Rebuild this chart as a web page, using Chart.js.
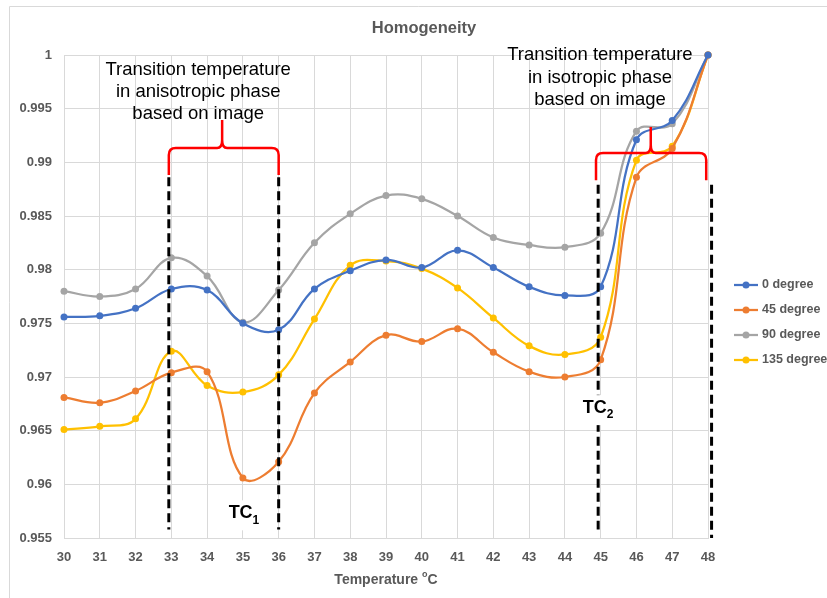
<!DOCTYPE html>
<html>
<head>
<meta charset="utf-8">
<script src="https://cdn.jsdelivr.net/npm/chart.js@4.4.1/dist/chart.umd.min.js"></script>
<style>
  html, body { margin: 0; padding: 0; background: #fff; }
  #wrap { width: 827px; height: 598px; }
</style>
</head>
<body>
<div id="wrap"><canvas id="mainChart" width="827" height="598"></canvas></div>
<script>
// values
const temps = ['30','31','32','33','34','35','36','37','38','39','40','41','42','43','44','45','46','47','48'];
const deg0   = [0.9756,0.9757,0.9764,0.9782,0.9781,0.9750,0.9744,0.9782,0.9799,0.9809,0.9802,0.9818,0.9802,0.9784,0.9776,0.9784,0.9921,0.9939,1.0];
const deg45  = [0.9681,0.9676,0.9687,0.9704,0.9705,0.9606,0.9621,0.9685,0.9714,0.9739,0.9733,0.9745,0.9723,0.9705,0.9700,0.9716,0.9886,0.9913,1.0];
const deg90  = [0.9780,0.9775,0.9782,0.9811,0.9794,0.9751,0.9781,0.9825,0.9852,0.9869,0.9866,0.9850,0.9830,0.9823,0.9821,0.9834,0.9929,0.9936,1.0];
const deg135 = [0.9651,0.9654,0.9661,0.9724,0.9692,0.9686,0.9702,0.9754,0.9804,0.9808,0.9801,0.9783,0.9755,0.9729,0.9721,0.9737,0.9902,0.9915,1.0];
const yTicks = [0.955,0.96,0.965,0.97,0.975,0.98,0.985,0.99,0.995,1];
const seriesNames = ['0 degree','45 degree','90 degree','135 degree'];
const seriesColors = ['#4472C4','#ED7D31','#A5A5A5','#FFC000'];

const GRAY = '#595959';
const GRID = '#d9d9d9';
const FONT = '"Liberation Sans", Arial, sans-serif';

// x position on the category axis for a (fractional) temperature
function xAt(chart, t) {
  const s = chart.scales.x;
  return s.getPixelForValue(0) + (t - 30) * (s.getPixelForValue(1) - s.getPixelForValue(0));
}
function yAt(chart, v) { return chart.scales.y.getPixelForValue(v); }

function bracket(ctx, xl, xr, yBar, yEnd, xPeak, yPeak) {
  const r = 7;
  ctx.beginPath();
  ctx.moveTo(xl, yEnd);
  ctx.lineTo(xl, yBar + r);
  ctx.quadraticCurveTo(xl, yBar, xl + r, yBar);
  ctx.lineTo(xPeak - 5, yBar);
  ctx.quadraticCurveTo(xPeak, yBar, xPeak, yBar - 8);
  ctx.lineTo(xPeak, yPeak);
  ctx.moveTo(xPeak, yBar - 8);
  ctx.quadraticCurveTo(xPeak, yBar, xPeak + 5, yBar);
  ctx.lineTo(xr - r, yBar);
  ctx.quadraticCurveTo(xr, yBar, xr, yBar + r);
  ctx.lineTo(xr, yEnd);
  ctx.stroke();
}

function subLabel(ctx, main, sub, cx, cy) {
  ctx.font = 'bold 18px ' + FONT;
  const w1 = ctx.measureText(main).width;
  ctx.font = 'bold 12px ' + FONT;
  const w2 = ctx.measureText(sub).width;
  const x0 = cx - (w1 + w2) / 2;
  ctx.fillStyle = '#fff';
  ctx.fillRect(x0 - 3, cy - 13, w1 + w2 + 6, 30);
  ctx.fillStyle = '#000';
  ctx.textAlign = 'left';
  ctx.textBaseline = 'middle';
  ctx.font = 'bold 18px ' + FONT;
  ctx.fillText(main, x0, cy);
  ctx.font = 'bold 12px ' + FONT;
  ctx.fillText(sub, x0 + w1, cy + 7);
}

const annotate = {
  id: 'annotate',
  afterDatasetsDraw(chart) {
    const ctx = chart.ctx;
    ctx.save();

    // dashed transition lines
    ctx.strokeStyle = '#000';
    ctx.lineWidth = 3;
    ctx.setLineDash([9, 5]);
    [[32.93, 0.9886, 0.9558], [36, 0.9886, 0.9558], [44.93, 0.9879, 0.9558], [48.1, 0.9879, 0.955]].forEach(([t, y1, y2]) => {
      ctx.beginPath();
      ctx.moveTo(xAt(chart, t), yAt(chart, y1));
      ctx.lineTo(xAt(chart, t), yAt(chart, y2));
      ctx.stroke();
    });
    ctx.setLineDash([]);

    // red braces
    ctx.strokeStyle = '#FF0000';
    ctx.lineWidth = 2.5;
    bracket(ctx, xAt(chart, 32.93), xAt(chart, 36), yAt(chart, 0.99134), yAt(chart, 0.98882), xAt(chart, 34.42), yAt(chart, 0.99394));
    bracket(ctx, xAt(chart, 44.87), xAt(chart, 47.95), yAt(chart, 0.99087), yAt(chart, 0.98832), xAt(chart, 46.4), yAt(chart, 0.99329));

    // annotation text
    ctx.fillStyle = '#000';
    ctx.font = '18.5px ' + FONT;
    ctx.textAlign = 'center';
    ctx.textBaseline = 'middle';
    const leftX = xAt(chart, 33.75);
    ['Transition temperature', 'in anisotropic phase', 'based on image'].forEach((s, i) => ctx.fillText(s, leftX, 70 + i * 22));
    const rightX = xAt(chart, 44.98);
    ['Transition temperature', 'in isotropic phase', 'based on image'].forEach((s, i) => ctx.fillText(s, rightX, 55 + i * 22.5));

    subLabel(ctx, 'TC', '1', xAt(chart, 35.03), yAt(chart, 0.9573));
    subLabel(ctx, 'TC', '2', xAt(chart, 44.93), yAt(chart, 0.9671));
    ctx.restore();
  },
  afterDraw(chart) {
    const ctx = chart.ctx;
    const area = chart.chartArea;
    ctx.save();

    // outer frame (chart cropped at right/bottom)
    ctx.strokeStyle = GRID;
    ctx.lineWidth = 1;
    ctx.beginPath();
    ctx.moveTo(9.5, 598);
    ctx.lineTo(9.5, 6.5);
    ctx.lineTo(827, 6.5);
    ctx.stroke();

    // title
    ctx.fillStyle = GRAY;
    ctx.textAlign = 'center';
    ctx.textBaseline = 'middle';
    ctx.font = 'bold 16.5px ' + FONT;
    ctx.fillText('Homogeneity', 424, 28);

    // x axis title with superscript o
    const cx = (area.left + area.right) / 2;
    ctx.font = 'bold 14px ' + FONT;
    const a = 'Temperature ';
    const wa = ctx.measureText(a).width;
    const wc = ctx.measureText('C').width;
    ctx.font = 'bold 9px ' + FONT;
    const wo = ctx.measureText('o').width;
    let x = cx - (wa + wo + wc) / 2;
    ctx.textAlign = 'left';
    ctx.font = 'bold 14px ' + FONT;
    ctx.fillText(a, x, 580);
    ctx.font = 'bold 9px ' + FONT;
    ctx.fillText('o', x + wa, 575);
    ctx.font = 'bold 14px ' + FONT;
    ctx.fillText('C', x + wa + wo, 580);

    // legend
    ctx.font = 'bold 12.5px ' + FONT;
    seriesNames.forEach((name, i) => {
      const y = 285 + i * 25;
      ctx.strokeStyle = seriesColors[i];
      ctx.fillStyle = seriesColors[i];
      ctx.lineWidth = 2.25;
      ctx.beginPath();
      ctx.moveTo(734, y);
      ctx.lineTo(758, y);
      ctx.stroke();
      ctx.beginPath();
      ctx.arc(746, y, 3.5, 0, Math.PI * 2);
      ctx.fill();
      ctx.fillStyle = GRAY;
      ctx.fillText(name, 762, y);
    });
    ctx.restore();
  }
};

const seriesData = [deg0, deg45, deg90, deg135];

new Chart(document.getElementById('mainChart').getContext('2d'), {
  type: 'line',
  data: {
    labels: temps,
    datasets: seriesData.map((d, i) => ({
      label: seriesNames[i],
      data: d,
      borderColor: seriesColors[i],
      backgroundColor: seriesColors[i],
      borderWidth: 2.25,
      pointRadius: 3.5,
      pointBorderWidth: 0,
      pointBackgroundColor: seriesColors[i],
      tension: 0.4,
      fill: false,
      clip: false
    }))
  },
  options: {
    responsive: false,
    animation: false,
    devicePixelRatio: 1,
    layout: { padding: { left: 0, right: 119, top: 55, bottom: 0 } },
    plugins: { legend: { display: false }, title: { display: false }, tooltip: { enabled: false } },
    scales: {
      x: {
        grid: { color: GRID, drawTicks: false },
        border: { color: GRID },
        ticks: { color: GRAY, font: { family: FONT, size: 13, weight: 'bold' }, padding: 12, maxRotation: 0, autoSkip: false },
        afterFit(s) { s.height = 60; }
      },
      y: {
        min: 0.955,
        max: 1,
        grid: { color: GRID, drawTicks: false },
        border: { color: GRID },
        afterBuildTicks(s) { s.ticks = yTicks.map(v => ({ value: v })); },
        ticks: {
          color: GRAY,
          font: { family: FONT, size: 13, weight: 'bold' },
          padding: 12,
          callback: v => String(+Number(v).toFixed(3))
        },
        afterFit(s) { s.width = 64; }
      }
    }
  },
  plugins: [annotate]
});
</script>
</body>
</html>
